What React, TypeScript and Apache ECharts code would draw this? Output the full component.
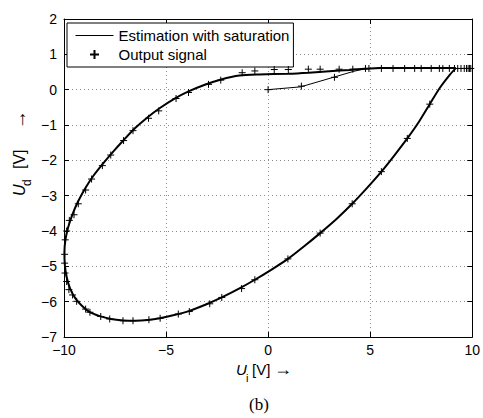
import React, { useEffect, useRef } from "react";
import * as echarts from "echarts";

// Tick values
const xTicks = [-10, -5, 0, 5, 10];
const yTicks = [-7, -6, -5, -4, -3, -2, -1, 0, 1, 2];

// Estimation with saturation: initial transient
const estTransX = [0, 1.6, 3.2, 4.2, 4.75, 5.5];
const estTransY = [0, 0.08, 0.35, 0.52, 0.59, 0.61];

// Estimation with saturation: steady-state loop
const estLoopX = [9.2, 8.9, 8.4, 7.92, 7.4, 6.82, 6.2, 5.55, 4.85, 4.12, 3.35, 2.55, 1.75, 0.97, 0.15, -0.65, -1.45, -2.27, -3.05, -3.86, -4.6, -5.3, -5.9, -6.5, -7.1, -7.7, -8.25, -8.75, -9.15, -9.45, -9.7, -9.87, -9.96, -9.98, -9.93, -9.8, -9.58, -9.3, -8.95, -8.55, -8.1, -7.6, -7.05, -6.5, -5.9, -5.3, -4.6, -3.9, -3.1, -2.3, -1.4, -0.45, 1, 2, 3, 4, 4.75, 5.5, 7, 8.5, 9.2];
const estLoopY = [0.61, 0.42, 0.04, -0.41, -0.9, -1.38, -1.85, -2.32, -2.78, -3.23, -3.66, -4.06, -4.44, -4.79, -5.1, -5.38, -5.64, -5.88, -6.08, -6.26, -6.38, -6.47, -6.52, -6.54, -6.53, -6.49, -6.41, -6.29, -6.1, -5.9, -5.63, -5.3, -4.95, -4.6, -4.25, -3.9, -3.52, -3.15, -2.78, -2.43, -2.1, -1.76, -1.41, -1.08, -0.78, -0.52, -0.26, -0.05, 0.14, 0.29, 0.4, 0.43, 0.45, 0.48, 0.52, 0.56, 0.59, 0.61, 0.61, 0.61, 0.61];

// Output signal samples
const outX = [0, 1.63, 3.25, 4.77, 4.94, 5.55, 6.12, 6.69, 7.18, 7.5, 7.99, 8.39, 8.56, 8.88, 9.13, 9.29, 9.45, 9.61, 9.72, 9.8, 9.87, 9.93,
  7.92, 6.82, 5.55, 4.12, 2.55, 0.97, -0.65, -1.3, -2.27, -2.86, -3.86, -4.4, -5.29, -5.84, -6.62, -7.11, -7.76, -8.2, -8.73, -8.94, -9.38, -9.58, -9.76, -9.87, -9.95, -9.97, -9.97, -9.94, -9.87, -9.74, -9.51, -9.3, -8.94, -8.65, -8.12, -7.71, -7.08, -6.62, -5.86, -5.36, -4.51, -3.9, -2.92, -2.32, -1.27, -0.65, 0.3, 0.99, 1.97, 2.55, 3.48, 4.15];
const outY = [0, 0.1, 0.35, 0.6, 0.6, 0.6, 0.6, 0.6, 0.6, 0.6, 0.6, 0.6, 0.6, 0.6, 0.6, 0.6, 0.6, 0.6, 0.6, 0.6, 0.6, 0.6,
  -0.41, -1.38, -2.32, -3.23, -4.06, -4.79, -5.38, -5.63, -5.88, -6.06, -6.28, -6.35, -6.47, -6.51, -6.54, -6.54, -6.49, -6.42, -6.3, -6.21, -5.99, -5.81, -5.66, -5.43, -5.19, -4.91, -4.66, -4.25, -4.0, -3.7, -3.54, -3.23, -2.84, -2.53, -2.15, -1.85, -1.44, -1.16, -0.81, -0.6, -0.25, -0.08, 0.15, 0.27, 0.48, 0.53, 0.57, 0.57, 0.58, 0.58, 0.58, 0.58];

const SERIES_EST = "Estimation with saturation";
const SERIES_OUT = "Output signal";

const FONT = "'Liberation Sans', Arial, Helvetica, sans-serif";
const PLUS = "path://M5 0V10M0 5H10";

const fmt = (v: number) => (v < 0 ? "\u2212" + Math.abs(v) : String(v));

export default function App() {
  const ref = useRef<HTMLDivElement>(null);
  useEffect(() => {
    if (!ref.current) return;
    const chart = echarts.init(ref.current, undefined, { renderer: "svg" });
    const zip = (xs: number[], ys: number[]) => xs.map((x, i) => [x, ys[i]]);
    const gridLine = { show: true, lineStyle: { color: "#8c8c8c", type: [1, 3] as any, width: 1 } };
    const axisLine = { show: true, onZero: false, lineStyle: { color: "#000", width: 1 } };
    const tick = { show: true, inside: true, length: 5, lineStyle: { color: "#000" } };
    const txt = (x: number, y: number, text: string, size: number, italic = false) => ({
      type: "text", x, y,
      style: { text, fontSize: size, fontStyle: italic ? "italic" : "normal", fontFamily: FONT, fill: "#000", align: "left", verticalAlign: "middle" },
    });
    const option: any = {
      animation: false,
      backgroundColor: "#fff",
      grid: { left: 64, right: 8, top: 19, bottom: 81, show: false },
      xAxis: [
        {
          type: "value", min: xTicks[0], max: xTicks[xTicks.length - 1], interval: 5,
          position: "bottom", axisLine, axisTick: tick, splitLine: gridLine,
          axisLabel: { color: "#000", fontSize: 14, fontFamily: FONT, margin: 6, formatter: fmt },
        },
        {
          type: "value", min: xTicks[0], max: xTicks[xTicks.length - 1], interval: 5,
          position: "top", axisLine, axisTick: tick, splitLine: { show: false },
          axisLabel: { show: false },
        },
      ],
      yAxis: [
        {
          type: "value", min: yTicks[0], max: yTicks[yTicks.length - 1], interval: 1,
          position: "left", axisLine, axisTick: tick, splitLine: gridLine,
          axisLabel: { color: "#000", fontSize: 14, fontFamily: FONT, margin: 7, formatter: fmt },
        },
        {
          type: "value", min: yTicks[0], max: yTicks[yTicks.length - 1], interval: 1,
          position: "right", axisLine, axisTick: tick, splitLine: { show: false },
          axisLabel: { show: false },
        },
      ],
      legend: {
        orient: "vertical", left: 67, top: 23,
        padding: [3, 4, 3, 8], itemGap: 0, itemWidth: 38, itemHeight: 9,
        backgroundColor: "#fff", borderColor: "#000", borderWidth: 1, borderRadius: 0,
        textStyle: { color: "#000", fontSize: 15, fontFamily: FONT, lineHeight: 19 },
        data: [
          {
            name: SERIES_EST,
            itemStyle: { color: "transparent", borderColor: "transparent", borderWidth: 0, opacity: 0 },
            lineStyle: { width: 1, color: "#000" },
          },
          { name: SERIES_OUT, icon: PLUS },
        ],
        selectedMode: false,
      },
      series: [
        {
          name: SERIES_EST, type: "line", data: zip(estTransX, estTransY),
          symbol: "none", lineStyle: { color: "#000", width: 1 }, itemStyle: { color: "#000" }, z: 3,
        },
        {
          name: SERIES_EST, type: "line", data: zip(estLoopX, estLoopY),
          symbol: "none", smooth: 0.25, lineStyle: { color: "#000", width: 2 }, itemStyle: { color: "#000" }, z: 3,
        },
        {
          name: SERIES_OUT, type: "scatter", data: zip(outX, outY),
          symbol: PLUS, symbolSize: 7, clip: false,
          itemStyle: { color: "transparent", borderColor: "#000", borderWidth: 1, opacity: 1 }, z: 4,
        },
      ],
      graphic: [
        txt(236, 369, "U", 15, true),
        txt(246, 378, "i", 11),
        txt(252, 369, "[V]", 15),
        txt(274, 369, "\u2192", 18),
        {
          type: "group", x: 19, y: 196, rotation: Math.PI / 2,
          children: [
            txt(0, 0, "U", 16, true),
            txt(10, 8, "d", 12),
            txt(27, 0, "[V]", 16),
            txt(67, 0, "\u2192", 19),
          ],
        },
        {
          type: "text", x: 259, y: 404,
          style: { text: "(b)", fontSize: 17, fontFamily: "'Liberation Serif', 'Times New Roman', serif", fill: "#000", align: "center", verticalAlign: "middle" },
        },
      ],
    };
    chart.setOption(option);
    return () => chart.dispose();
  }, []);
  return <div ref={ref} style={{ position: "fixed", left: 0, top: 0, width: 483, height: 418 }} />;
}
